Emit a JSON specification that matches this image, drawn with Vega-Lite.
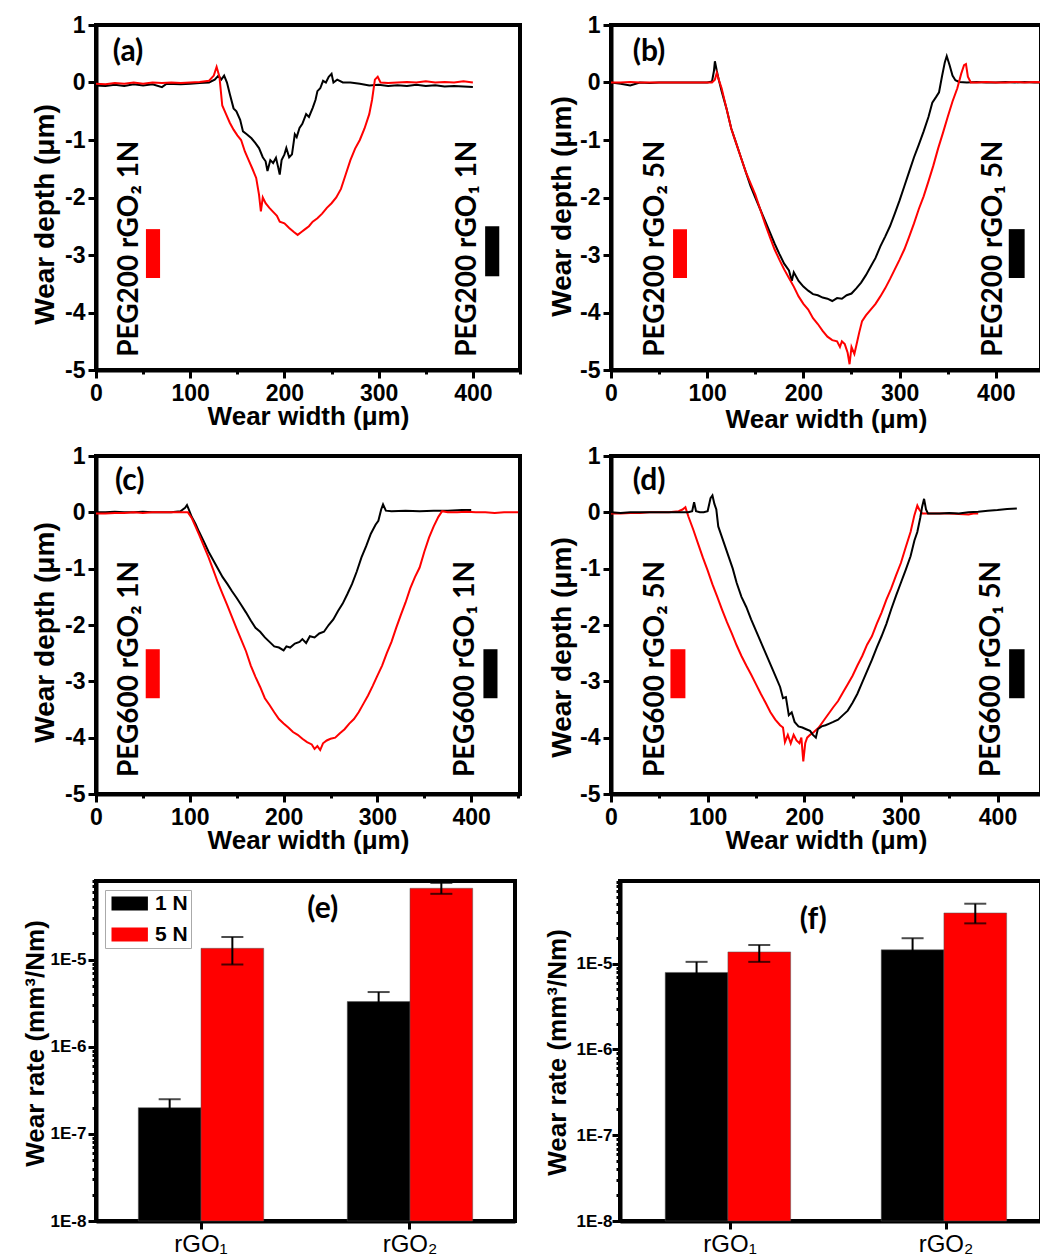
{
"$schema": "https://vega.github.io/schema/vega-lite/v6.json",
"padding": {"left": 20, "top": 12, "right": 0, "bottom": 0},
"spacing": 15,
"resolve": {"scale": {"color": "independent"}, "legend": {"color": "independent"}},
"config": {
 "view": {"stroke": "black", "strokeWidth": 4},
 "axis": {"domainColor": "black", "domainWidth": 4, "tickColor": "black", "tickWidth": 3, "labelFont": "Liberation Sans", "labelFontWeight": "bold", "labelFontSize": 23, "labelColor": "black", "titleFont": "Liberation Sans", "titleFontWeight": "bold", "titleFontSize": 26, "titleColor": "black", "grid": false, "labelFlush": false, "labelOverlap": false, "labelBound": false},
 "text": {"color": "black"}
},
"datasets": {
 "a": [
  {"s":"rGO1","x":0,"y":-0.05},{"s":"rGO1","x":10,"y":-0.06},{"s":"rGO1","x":20,"y":-0.04},{"s":"rGO1","x":30,"y":-0.06},{"s":"rGO1","x":40,"y":-0.03},{"s":"rGO1","x":50,"y":-0.05},{"s":"rGO1","x":60,"y":-0.03},{"s":"rGO1","x":70,"y":-0.08},{"s":"rGO1","x":75,"y":-0.02},{"s":"rGO1","x":90,"y":-0.03},{"s":"rGO1","x":100,"y":-0.02},{"s":"rGO1","x":110,"y":-0.01},{"s":"rGO1","x":120,"y":0},{"s":"rGO1","x":126,"y":0.05},{"s":"rGO1","x":130,"y":0.12},{"s":"rGO1","x":133,"y":0.05},{"s":"rGO1","x":136,"y":0.12},{"s":"rGO1","x":139,"y":0},{"s":"rGO1","x":142,"y":-0.2},{"s":"rGO1","x":146,"y":-0.45},{"s":"rGO1","x":149,"y":-0.5},{"s":"rGO1","x":153,"y":-0.65},{"s":"rGO1","x":156,"y":-0.85},{"s":"rGO1","x":160,"y":-0.9},{"s":"rGO1","x":165,"y":-0.97},{"s":"rGO1","x":169,"y":-1.05},{"s":"rGO1","x":173,"y":-1.14},{"s":"rGO1","x":177,"y":-1.3},{"s":"rGO1","x":180,"y":-1.37},{"s":"rGO1","x":182,"y":-1.54},{"s":"rGO1","x":185,"y":-1.35},{"s":"rGO1","x":188,"y":-1.4},{"s":"rGO1","x":191,"y":-1.31},{"s":"rGO1","x":193,"y":-1.45},{"s":"rGO1","x":195,"y":-1.6},{"s":"rGO1","x":197,"y":-1.35},{"s":"rGO1","x":200,"y":-1.25},{"s":"rGO1","x":202,"y":-1.14},{"s":"rGO1","x":205,"y":-1.3},{"s":"rGO1","x":208,"y":-1.25},{"s":"rGO1","x":211,"y":-0.9},{"s":"rGO1","x":213,"y":-0.95},{"s":"rGO1","x":216,"y":-0.79},{"s":"rGO1","x":219,"y":-0.72},{"s":"rGO1","x":223,"y":-0.55},{"s":"rGO1","x":226,"y":-0.6},{"s":"rGO1","x":230,"y":-0.44},{"s":"rGO1","x":233,"y":-0.3},{"s":"rGO1","x":235,"y":-0.15},{"s":"rGO1","x":238,"y":-0.1},{"s":"rGO1","x":241,"y":0.03},{"s":"rGO1","x":244,"y":0},{"s":"rGO1","x":247,"y":0.1},{"s":"rGO1","x":250,"y":0.15},{"s":"rGO1","x":252,"y":0},{"s":"rGO1","x":256,"y":0.05},{"s":"rGO1","x":262,"y":0},{"s":"rGO1","x":270,"y":0},{"s":"rGO1","x":280,"y":-0.02},{"s":"rGO1","x":290,"y":-0.05},{"s":"rGO1","x":300,"y":-0.04},{"s":"rGO1","x":310,"y":-0.06},{"s":"rGO1","x":320,"y":-0.05},{"s":"rGO1","x":330,"y":-0.06},{"s":"rGO1","x":340,"y":-0.04},{"s":"rGO1","x":350,"y":-0.06},{"s":"rGO1","x":360,"y":-0.05},{"s":"rGO1","x":370,"y":-0.07},{"s":"rGO1","x":380,"y":-0.06},{"s":"rGO1","x":390,"y":-0.07},{"s":"rGO1","x":400,"y":-0.08},
  {"s":"rGO2","x":0,"y":-0.02},{"s":"rGO2","x":10,"y":-0.03},{"s":"rGO2","x":20,"y":-0.01},{"s":"rGO2","x":30,"y":-0.02},{"s":"rGO2","x":40,"y":0},{"s":"rGO2","x":50,"y":-0.02},{"s":"rGO2","x":60,"y":0},{"s":"rGO2","x":70,"y":-0.01},{"s":"rGO2","x":80,"y":0},{"s":"rGO2","x":90,"y":-0.01},{"s":"rGO2","x":100,"y":0},{"s":"rGO2","x":110,"y":0.01},{"s":"rGO2","x":120,"y":0.03},{"s":"rGO2","x":125,"y":0.12},{"s":"rGO2","x":128,"y":0.27},{"s":"rGO2","x":131,"y":0.1},{"s":"rGO2","x":134,"y":-0.4},{"s":"rGO2","x":138,"y":-0.55},{"s":"rGO2","x":142,"y":-0.7},{"s":"rGO2","x":146,"y":-0.82},{"s":"rGO2","x":150,"y":-0.92},{"s":"rGO2","x":154,"y":-1.0},{"s":"rGO2","x":158,"y":-1.2},{"s":"rGO2","x":162,"y":-1.35},{"s":"rGO2","x":166,"y":-1.5},{"s":"rGO2","x":170,"y":-1.66},{"s":"rGO2","x":173,"y":-1.95},{"s":"rGO2","x":175,"y":-2.24},{"s":"rGO2","x":177,"y":-2.0},{"s":"rGO2","x":180,"y":-2.1},{"s":"rGO2","x":184,"y":-2.18},{"s":"rGO2","x":188,"y":-2.25},{"s":"rGO2","x":192,"y":-2.32},{"s":"rGO2","x":195,"y":-2.42},{"s":"rGO2","x":200,"y":-2.45},{"s":"rGO2","x":205,"y":-2.53},{"s":"rGO2","x":210,"y":-2.6},{"s":"rGO2","x":214,"y":-2.65},{"s":"rGO2","x":218,"y":-2.6},{"s":"rGO2","x":222,"y":-2.55},{"s":"rGO2","x":226,"y":-2.5},{"s":"rGO2","x":230,"y":-2.42},{"s":"rGO2","x":235,"y":-2.36},{"s":"rGO2","x":240,"y":-2.28},{"s":"rGO2","x":245,"y":-2.18},{"s":"rGO2","x":250,"y":-2.1},{"s":"rGO2","x":255,"y":-2.0},{"s":"rGO2","x":260,"y":-1.85},{"s":"rGO2","x":265,"y":-1.6},{"s":"rGO2","x":270,"y":-1.35},{"s":"rGO2","x":275,"y":-1.15},{"s":"rGO2","x":280,"y":-1.0},{"s":"rGO2","x":285,"y":-0.8},{"s":"rGO2","x":290,"y":-0.55},{"s":"rGO2","x":293,"y":-0.3},{"s":"rGO2","x":296,"y":0.05},{"s":"rGO2","x":299,"y":0.1},{"s":"rGO2","x":302,"y":0},{"s":"rGO2","x":310,"y":-0.01},{"s":"rGO2","x":320,"y":0},{"s":"rGO2","x":330,"y":0.01},{"s":"rGO2","x":340,"y":0},{"s":"rGO2","x":350,"y":0.02},{"s":"rGO2","x":360,"y":0},{"s":"rGO2","x":370,"y":0.01},{"s":"rGO2","x":380,"y":0},{"s":"rGO2","x":390,"y":0.02},{"s":"rGO2","x":400,"y":0}
 ],
 "b": [
  {"s":"rGO1","x":0,"y":0},{"s":"rGO1","x":10,"y":-0.02},{"s":"rGO1","x":20,"y":-0.05},{"s":"rGO1","x":30,"y":0},{"s":"rGO1","x":40,"y":-0.01},{"s":"rGO1","x":50,"y":0},{"s":"rGO1","x":60,"y":0},{"s":"rGO1","x":70,"y":0},{"s":"rGO1","x":80,"y":0},{"s":"rGO1","x":90,"y":0},{"s":"rGO1","x":100,"y":0},{"s":"rGO1","x":105,"y":0.02},{"s":"rGO1","x":107,"y":0.2},{"s":"rGO1","x":108,"y":0.37},{"s":"rGO1","x":110,"y":0.2},{"s":"rGO1","x":112,"y":0.05},{"s":"rGO1","x":115,"y":-0.15},{"s":"rGO1","x":120,"y":-0.45},{"s":"rGO1","x":125,"y":-0.8},{"s":"rGO1","x":130,"y":-1.05},{"s":"rGO1","x":135,"y":-1.3},{"s":"rGO1","x":140,"y":-1.55},{"s":"rGO1","x":145,"y":-1.8},{"s":"rGO1","x":150,"y":-2.0},{"s":"rGO1","x":155,"y":-2.2},{"s":"rGO1","x":160,"y":-2.4},{"s":"rGO1","x":165,"y":-2.6},{"s":"rGO1","x":170,"y":-2.8},{"s":"rGO1","x":175,"y":-2.98},{"s":"rGO1","x":180,"y":-3.15},{"s":"rGO1","x":185,"y":-3.27},{"s":"rGO1","x":188,"y":-3.45},{"s":"rGO1","x":190,"y":-3.3},{"s":"rGO1","x":195,"y":-3.45},{"s":"rGO1","x":200,"y":-3.55},{"s":"rGO1","x":205,"y":-3.62},{"s":"rGO1","x":210,"y":-3.68},{"s":"rGO1","x":215,"y":-3.7},{"s":"rGO1","x":220,"y":-3.74},{"s":"rGO1","x":225,"y":-3.76},{"s":"rGO1","x":230,"y":-3.8},{"s":"rGO1","x":235,"y":-3.75},{"s":"rGO1","x":240,"y":-3.76},{"s":"rGO1","x":245,"y":-3.7},{"s":"rGO1","x":250,"y":-3.67},{"s":"rGO1","x":255,"y":-3.58},{"s":"rGO1","x":260,"y":-3.48},{"s":"rGO1","x":265,"y":-3.35},{"s":"rGO1","x":270,"y":-3.2},{"s":"rGO1","x":275,"y":-3.05},{"s":"rGO1","x":280,"y":-2.85},{"s":"rGO1","x":285,"y":-2.68},{"s":"rGO1","x":290,"y":-2.5},{"s":"rGO1","x":295,"y":-2.28},{"s":"rGO1","x":300,"y":-2.05},{"s":"rGO1","x":305,"y":-1.8},{"s":"rGO1","x":310,"y":-1.55},{"s":"rGO1","x":315,"y":-1.3},{"s":"rGO1","x":320,"y":-1.08},{"s":"rGO1","x":325,"y":-0.85},{"s":"rGO1","x":330,"y":-0.6},{"s":"rGO1","x":334,"y":-0.35},{"s":"rGO1","x":338,"y":-0.25},{"s":"rGO1","x":341,"y":-0.17},{"s":"rGO1","x":344,"y":0.1},{"s":"rGO1","x":347,"y":0.35},{"s":"rGO1","x":349,"y":0.46},{"s":"rGO1","x":352,"y":0.3},{"s":"rGO1","x":355,"y":0.12},{"s":"rGO1","x":358,"y":0.04},{"s":"rGO1","x":362,"y":0.01},{"s":"rGO1","x":370,"y":0},{"s":"rGO1","x":380,"y":0.01},{"s":"rGO1","x":390,"y":0},{"s":"rGO1","x":400,"y":0},{"s":"rGO1","x":410,"y":0.01},{"s":"rGO1","x":420,"y":0},{"s":"rGO1","x":430,"y":0.01},{"s":"rGO1","x":440,"y":0},{"s":"rGO1","x":450,"y":0},
  {"s":"rGO2","x":0,"y":0},{"s":"rGO2","x":10,"y":0},{"s":"rGO2","x":20,"y":0.01},{"s":"rGO2","x":30,"y":0},{"s":"rGO2","x":40,"y":0},{"s":"rGO2","x":50,"y":0},{"s":"rGO2","x":60,"y":0},{"s":"rGO2","x":70,"y":0},{"s":"rGO2","x":80,"y":0},{"s":"rGO2","x":90,"y":0},{"s":"rGO2","x":100,"y":0},{"s":"rGO2","x":105,"y":0},{"s":"rGO2","x":108,"y":0.05},{"s":"rGO2","x":110,"y":0.17},{"s":"rGO2","x":112,"y":0.05},{"s":"rGO2","x":115,"y":-0.1},{"s":"rGO2","x":120,"y":-0.45},{"s":"rGO2","x":125,"y":-0.8},{"s":"rGO2","x":130,"y":-1.05},{"s":"rGO2","x":135,"y":-1.3},{"s":"rGO2","x":140,"y":-1.55},{"s":"rGO2","x":145,"y":-1.75},{"s":"rGO2","x":150,"y":-1.95},{"s":"rGO2","x":155,"y":-2.2},{"s":"rGO2","x":160,"y":-2.45},{"s":"rGO2","x":165,"y":-2.68},{"s":"rGO2","x":170,"y":-2.9},{"s":"rGO2","x":175,"y":-3.08},{"s":"rGO2","x":180,"y":-3.25},{"s":"rGO2","x":185,"y":-3.4},{"s":"rGO2","x":190,"y":-3.55},{"s":"rGO2","x":195,"y":-3.72},{"s":"rGO2","x":200,"y":-3.85},{"s":"rGO2","x":205,"y":-3.95},{"s":"rGO2","x":210,"y":-4.1},{"s":"rGO2","x":215,"y":-4.2},{"s":"rGO2","x":220,"y":-4.32},{"s":"rGO2","x":225,"y":-4.42},{"s":"rGO2","x":230,"y":-4.48},{"s":"rGO2","x":235,"y":-4.5},{"s":"rGO2","x":238,"y":-4.6},{"s":"rGO2","x":240,"y":-4.5},{"s":"rGO2","x":243,"y":-4.55},{"s":"rGO2","x":246,"y":-4.7},{"s":"rGO2","x":248,"y":-4.9},{"s":"rGO2","x":250,"y":-4.6},{"s":"rGO2","x":253,"y":-4.72},{"s":"rGO2","x":256,"y":-4.5},{"s":"rGO2","x":258,"y":-4.35},{"s":"rGO2","x":261,"y":-4.15},{"s":"rGO2","x":265,"y":-4.05},{"s":"rGO2","x":270,"y":-3.95},{"s":"rGO2","x":275,"y":-3.85},{"s":"rGO2","x":280,"y":-3.72},{"s":"rGO2","x":285,"y":-3.58},{"s":"rGO2","x":290,"y":-3.42},{"s":"rGO2","x":295,"y":-3.25},{"s":"rGO2","x":300,"y":-3.08},{"s":"rGO2","x":305,"y":-2.9},{"s":"rGO2","x":310,"y":-2.68},{"s":"rGO2","x":315,"y":-2.45},{"s":"rGO2","x":320,"y":-2.2},{"s":"rGO2","x":325,"y":-1.98},{"s":"rGO2","x":330,"y":-1.72},{"s":"rGO2","x":335,"y":-1.45},{"s":"rGO2","x":340,"y":-1.15},{"s":"rGO2","x":345,"y":-0.88},{"s":"rGO2","x":350,"y":-0.6},{"s":"rGO2","x":355,"y":-0.33},{"s":"rGO2","x":360,"y":-0.1},{"s":"rGO2","x":364,"y":0.15},{"s":"rGO2","x":367,"y":0.3},{"s":"rGO2","x":369,"y":0.32},{"s":"rGO2","x":371,"y":0.1},{"s":"rGO2","x":374,"y":0},{"s":"rGO2","x":380,"y":0},{"s":"rGO2","x":390,"y":0.01},{"s":"rGO2","x":400,"y":0},{"s":"rGO2","x":410,"y":0},{"s":"rGO2","x":420,"y":0.01},{"s":"rGO2","x":430,"y":0},{"s":"rGO2","x":440,"y":0.01},{"s":"rGO2","x":450,"y":0}
 ],
 "c": [
  {"s":"rGO1","x":0,"y":0},{"s":"rGO1","x":10,"y":0},{"s":"rGO1","x":20,"y":0.01},{"s":"rGO1","x":30,"y":0},{"s":"rGO1","x":40,"y":0},{"s":"rGO1","x":50,"y":0.01},{"s":"rGO1","x":60,"y":0},{"s":"rGO1","x":70,"y":0},{"s":"rGO1","x":80,"y":0},{"s":"rGO1","x":90,"y":0.02},{"s":"rGO1","x":95,"y":0.08},{"s":"rGO1","x":97,"y":0.13},{"s":"rGO1","x":99,"y":0.05},{"s":"rGO1","x":102,"y":-0.08},{"s":"rGO1","x":106,"y":-0.2},{"s":"rGO1","x":110,"y":-0.35},{"s":"rGO1","x":115,"y":-0.52},{"s":"rGO1","x":120,"y":-0.7},{"s":"rGO1","x":125,"y":-0.85},{"s":"rGO1","x":130,"y":-1.0},{"s":"rGO1","x":135,"y":-1.15},{"s":"rGO1","x":140,"y":-1.27},{"s":"rGO1","x":145,"y":-1.4},{"s":"rGO1","x":150,"y":-1.52},{"s":"rGO1","x":155,"y":-1.65},{"s":"rGO1","x":160,"y":-1.78},{"s":"rGO1","x":165,"y":-1.92},{"s":"rGO1","x":170,"y":-2.05},{"s":"rGO1","x":175,"y":-2.12},{"s":"rGO1","x":180,"y":-2.22},{"s":"rGO1","x":185,"y":-2.3},{"s":"rGO1","x":190,"y":-2.38},{"s":"rGO1","x":195,"y":-2.4},{"s":"rGO1","x":200,"y":-2.45},{"s":"rGO1","x":203,"y":-2.38},{"s":"rGO1","x":207,"y":-2.4},{"s":"rGO1","x":212,"y":-2.33},{"s":"rGO1","x":217,"y":-2.3},{"s":"rGO1","x":220,"y":-2.25},{"s":"rGO1","x":224,"y":-2.32},{"s":"rGO1","x":228,"y":-2.2},{"s":"rGO1","x":233,"y":-2.22},{"s":"rGO1","x":238,"y":-2.15},{"s":"rGO1","x":243,"y":-2.12},{"s":"rGO1","x":248,"y":-2.0},{"s":"rGO1","x":253,"y":-1.9},{"s":"rGO1","x":258,"y":-1.75},{"s":"rGO1","x":263,"y":-1.62},{"s":"rGO1","x":268,"y":-1.45},{"s":"rGO1","x":273,"y":-1.27},{"s":"rGO1","x":278,"y":-1.05},{"s":"rGO1","x":283,"y":-0.8},{"s":"rGO1","x":288,"y":-0.6},{"s":"rGO1","x":293,"y":-0.38},{"s":"rGO1","x":298,"y":-0.22},{"s":"rGO1","x":301,"y":-0.15},{"s":"rGO1","x":304,"y":0.05},{"s":"rGO1","x":306,"y":0.14},{"s":"rGO1","x":309,"y":0.03},{"s":"rGO1","x":315,"y":0.02},{"s":"rGO1","x":330,"y":0.03},{"s":"rGO1","x":345,"y":0.02},{"s":"rGO1","x":360,"y":0.03},{"s":"rGO1","x":375,"y":0.03},{"s":"rGO1","x":390,"y":0.04},{"s":"rGO1","x":400,"y":0.04},
  {"s":"rGO2","x":0,"y":-0.02},{"s":"rGO2","x":10,"y":-0.02},{"s":"rGO2","x":20,"y":-0.01},{"s":"rGO2","x":30,"y":-0.01},{"s":"rGO2","x":40,"y":0},{"s":"rGO2","x":50,"y":-0.01},{"s":"rGO2","x":60,"y":0},{"s":"rGO2","x":70,"y":0},{"s":"rGO2","x":80,"y":0},{"s":"rGO2","x":90,"y":0},{"s":"rGO2","x":98,"y":0},{"s":"rGO2","x":102,"y":-0.1},{"s":"rGO2","x":106,"y":-0.25},{"s":"rGO2","x":110,"y":-0.4},{"s":"rGO2","x":115,"y":-0.6},{"s":"rGO2","x":120,"y":-0.8},{"s":"rGO2","x":125,"y":-1.02},{"s":"rGO2","x":130,"y":-1.25},{"s":"rGO2","x":135,"y":-1.45},{"s":"rGO2","x":140,"y":-1.65},{"s":"rGO2","x":145,"y":-1.86},{"s":"rGO2","x":150,"y":-2.07},{"s":"rGO2","x":155,"y":-2.27},{"s":"rGO2","x":160,"y":-2.47},{"s":"rGO2","x":165,"y":-2.72},{"s":"rGO2","x":170,"y":-2.92},{"s":"rGO2","x":175,"y":-3.1},{"s":"rGO2","x":180,"y":-3.3},{"s":"rGO2","x":185,"y":-3.42},{"s":"rGO2","x":190,"y":-3.55},{"s":"rGO2","x":195,"y":-3.67},{"s":"rGO2","x":200,"y":-3.75},{"s":"rGO2","x":205,"y":-3.82},{"s":"rGO2","x":210,"y":-3.9},{"s":"rGO2","x":215,"y":-3.95},{"s":"rGO2","x":220,"y":-4.02},{"s":"rGO2","x":225,"y":-4.08},{"s":"rGO2","x":230,"y":-4.12},{"s":"rGO2","x":233,"y":-4.2},{"s":"rGO2","x":236,"y":-4.15},{"s":"rGO2","x":239,"y":-4.22},{"s":"rGO2","x":242,"y":-4.1},{"s":"rGO2","x":246,"y":-4.05},{"s":"rGO2","x":250,"y":-4.02},{"s":"rGO2","x":255,"y":-4.0},{"s":"rGO2","x":260,"y":-3.92},{"s":"rGO2","x":265,"y":-3.85},{"s":"rGO2","x":270,"y":-3.75},{"s":"rGO2","x":275,"y":-3.67},{"s":"rGO2","x":280,"y":-3.55},{"s":"rGO2","x":285,"y":-3.4},{"s":"rGO2","x":290,"y":-3.25},{"s":"rGO2","x":295,"y":-3.08},{"s":"rGO2","x":300,"y":-2.9},{"s":"rGO2","x":305,"y":-2.72},{"s":"rGO2","x":310,"y":-2.5},{"s":"rGO2","x":315,"y":-2.3},{"s":"rGO2","x":320,"y":-2.05},{"s":"rGO2","x":325,"y":-1.82},{"s":"rGO2","x":330,"y":-1.6},{"s":"rGO2","x":335,"y":-1.35},{"s":"rGO2","x":340,"y":-1.15},{"s":"rGO2","x":345,"y":-0.98},{"s":"rGO2","x":350,"y":-0.7},{"s":"rGO2","x":355,"y":-0.45},{"s":"rGO2","x":360,"y":-0.25},{"s":"rGO2","x":365,"y":-0.08},{"s":"rGO2","x":369,"y":0.02},{"s":"rGO2","x":375,"y":0},{"s":"rGO2","x":385,"y":0},{"s":"rGO2","x":395,"y":0.01},{"s":"rGO2","x":405,"y":0},{"s":"rGO2","x":415,"y":0},{"s":"rGO2","x":425,"y":-0.01},{"s":"rGO2","x":435,"y":0},{"s":"rGO2","x":445,"y":0},{"s":"rGO2","x":450,"y":0}
 ],
 "d": [
  {"s":"rGO2","x":0,"y":-0.02},{"s":"rGO2","x":10,"y":-0.02},{"s":"rGO2","x":20,"y":-0.01},{"s":"rGO2","x":30,"y":-0.01},{"s":"rGO2","x":40,"y":0},{"s":"rGO2","x":50,"y":0},{"s":"rGO2","x":60,"y":0},{"s":"rGO2","x":70,"y":0.02},{"s":"rGO2","x":74,"y":0.05},{"s":"rGO2","x":77,"y":0.09},{"s":"rGO2","x":80,"y":-0.07},{"s":"rGO2","x":85,"y":-0.3},{"s":"rGO2","x":90,"y":-0.55},{"s":"rGO2","x":95,"y":-0.8},{"s":"rGO2","x":100,"y":-1.03},{"s":"rGO2","x":105,"y":-1.28},{"s":"rGO2","x":110,"y":-1.5},{"s":"rGO2","x":115,"y":-1.73},{"s":"rGO2","x":120,"y":-1.95},{"s":"rGO2","x":125,"y":-2.15},{"s":"rGO2","x":130,"y":-2.36},{"s":"rGO2","x":135,"y":-2.55},{"s":"rGO2","x":140,"y":-2.72},{"s":"rGO2","x":145,"y":-2.88},{"s":"rGO2","x":150,"y":-3.05},{"s":"rGO2","x":155,"y":-3.22},{"s":"rGO2","x":160,"y":-3.38},{"s":"rGO2","x":165,"y":-3.55},{"s":"rGO2","x":170,"y":-3.68},{"s":"rGO2","x":175,"y":-3.78},{"s":"rGO2","x":178,"y":-3.82},{"s":"rGO2","x":180,"y":-4.08},{"s":"rGO2","x":183,"y":-3.95},{"s":"rGO2","x":186,"y":-4.1},{"s":"rGO2","x":189,"y":-3.95},{"s":"rGO2","x":192,"y":-4.05},{"s":"rGO2","x":195,"y":-4.1},{"s":"rGO2","x":197,"y":-4.0},{"s":"rGO2","x":199,"y":-4.42},{"s":"rGO2","x":201,"y":-4.1},{"s":"rGO2","x":203,"y":-4.0},{"s":"rGO2","x":206,"y":-3.95},{"s":"rGO2","x":210,"y":-3.9},{"s":"rGO2","x":215,"y":-3.82},{"s":"rGO2","x":220,"y":-3.7},{"s":"rGO2","x":225,"y":-3.58},{"s":"rGO2","x":230,"y":-3.46},{"s":"rGO2","x":235,"y":-3.35},{"s":"rGO2","x":240,"y":-3.2},{"s":"rGO2","x":245,"y":-3.05},{"s":"rGO2","x":250,"y":-2.9},{"s":"rGO2","x":255,"y":-2.72},{"s":"rGO2","x":260,"y":-2.55},{"s":"rGO2","x":265,"y":-2.35},{"s":"rGO2","x":270,"y":-2.2},{"s":"rGO2","x":275,"y":-1.98},{"s":"rGO2","x":280,"y":-1.78},{"s":"rGO2","x":285,"y":-1.55},{"s":"rGO2","x":290,"y":-1.35},{"s":"rGO2","x":295,"y":-1.12},{"s":"rGO2","x":300,"y":-0.9},{"s":"rGO2","x":305,"y":-0.62},{"s":"rGO2","x":310,"y":-0.35},{"s":"rGO2","x":314,"y":-0.05},{"s":"rGO2","x":317,"y":0.12},{"s":"rGO2","x":319,"y":0.05},{"s":"rGO2","x":322,"y":-0.02},{"s":"rGO2","x":330,"y":-0.02},{"s":"rGO2","x":340,"y":-0.02},{"s":"rGO2","x":350,"y":-0.02},{"s":"rGO2","x":360,"y":-0.03},{"s":"rGO2","x":370,"y":-0.04},{"s":"rGO2","x":375,"y":-0.02},{"s":"rGO2","x":380,"y":-0.02},
  {"s":"rGO1","x":0,"y":0},{"s":"rGO1","x":10,"y":-0.01},{"s":"rGO1","x":20,"y":0},{"s":"rGO1","x":30,"y":0},{"s":"rGO1","x":40,"y":0},{"s":"rGO1","x":50,"y":0},{"s":"rGO1","x":60,"y":0},{"s":"rGO1","x":70,"y":0},{"s":"rGO1","x":80,"y":0},{"s":"rGO1","x":84,"y":0.02},{"s":"rGO1","x":86,"y":0.18},{"s":"rGO1","x":88,"y":0.02},{"s":"rGO1","x":92,"y":0},{"s":"rGO1","x":96,"y":0},{"s":"rGO1","x":100,"y":0.02},{"s":"rGO1","x":103,"y":0.25},{"s":"rGO1","x":105,"y":0.3},{"s":"rGO1","x":107,"y":0.15},{"s":"rGO1","x":109,"y":0.05},{"s":"rGO1","x":111,"y":-0.25},{"s":"rGO1","x":114,"y":-0.4},{"s":"rGO1","x":118,"y":-0.6},{"s":"rGO1","x":122,"y":-0.8},{"s":"rGO1","x":126,"y":-1.0},{"s":"rGO1","x":130,"y":-1.25},{"s":"rGO1","x":135,"y":-1.5},{"s":"rGO1","x":140,"y":-1.68},{"s":"rGO1","x":145,"y":-1.9},{"s":"rGO1","x":150,"y":-2.1},{"s":"rGO1","x":155,"y":-2.3},{"s":"rGO1","x":160,"y":-2.5},{"s":"rGO1","x":165,"y":-2.7},{"s":"rGO1","x":170,"y":-2.9},{"s":"rGO1","x":175,"y":-3.1},{"s":"rGO1","x":178,"y":-3.3},{"s":"rGO1","x":181,"y":-3.28},{"s":"rGO1","x":184,"y":-3.6},{"s":"rGO1","x":187,"y":-3.55},{"s":"rGO1","x":190,"y":-3.72},{"s":"rGO1","x":194,"y":-3.8},{"s":"rGO1","x":198,"y":-3.82},{"s":"rGO1","x":202,"y":-3.85},{"s":"rGO1","x":206,"y":-3.88},{"s":"rGO1","x":209,"y":-3.95},{"s":"rGO1","x":212,"y":-4.0},{"s":"rGO1","x":214,"y":-3.85},{"s":"rGO1","x":218,"y":-3.8},{"s":"rGO1","x":222,"y":-3.78},{"s":"rGO1","x":226,"y":-3.75},{"s":"rGO1","x":230,"y":-3.72},{"s":"rGO1","x":235,"y":-3.68},{"s":"rGO1","x":240,"y":-3.6},{"s":"rGO1","x":245,"y":-3.52},{"s":"rGO1","x":250,"y":-3.38},{"s":"rGO1","x":255,"y":-3.22},{"s":"rGO1","x":260,"y":-3.02},{"s":"rGO1","x":265,"y":-2.82},{"s":"rGO1","x":270,"y":-2.62},{"s":"rGO1","x":275,"y":-2.4},{"s":"rGO1","x":280,"y":-2.2},{"s":"rGO1","x":285,"y":-1.98},{"s":"rGO1","x":290,"y":-1.72},{"s":"rGO1","x":295,"y":-1.48},{"s":"rGO1","x":300,"y":-1.25},{"s":"rGO1","x":305,"y":-1.02},{"s":"rGO1","x":310,"y":-0.78},{"s":"rGO1","x":314,"y":-0.5},{"s":"rGO1","x":317,"y":-0.35},{"s":"rGO1","x":320,"y":-0.1},{"s":"rGO1","x":322,"y":0.1},{"s":"rGO1","x":324,"y":0.24},{"s":"rGO1","x":326,"y":0.05},{"s":"rGO1","x":328,"y":-0.02},{"s":"rGO1","x":340,"y":-0.02},{"s":"rGO1","x":350,"y":-0.01},{"s":"rGO1","x":360,"y":-0.02},{"s":"rGO1","x":370,"y":0},{"s":"rGO1","x":380,"y":0.01},{"s":"rGO1","x":390,"y":0.03},{"s":"rGO1","x":400,"y":0.04},{"s":"rGO1","x":410,"y":0.06},{"s":"rGO1","x":420,"y":0.07}
 ],
 "e": [
  {"cat":"rGO₁","load":"1 N","v":2.0e-7,"lo":1.5e-7,"hi":2.5e-7},
  {"cat":"rGO₁","load":"5 N","v":1.35e-5,"lo":0.88e-5,"hi":1.82e-5},
  {"cat":"rGO₂","load":"1 N","v":3.3e-6,"lo":2.35e-6,"hi":4.25e-6},
  {"cat":"rGO₂","load":"5 N","v":6.6e-5,"lo":5.7e-5,"hi":7.6e-5}
 ],
 "f": [
  {"cat":"rGO₁","load":"1 N","v":7.9e-6,"lo":5.3e-6,"hi":1.05e-5},
  {"cat":"rGO₁","load":"5 N","v":1.37e-5,"lo":1.05e-5,"hi":1.65e-5},
  {"cat":"rGO₂","load":"1 N","v":1.45e-5,"lo":0.92e-5,"hi":1.98e-5},
  {"cat":"rGO₂","load":"5 N","v":3.9e-5,"lo":2.95e-5,"hi":5.0e-5}
 ]
},
"vconcat": [
 {"vconcat": [
 {"hconcat": [
  {"width": 424, "height": 345, "layer": [
   {"data": {"name": "a"}, "mark": {"type": "line", "strokeWidth": 2, "clip": true},
    "encoding": {
     "x": {"field": "x", "type": "quantitative", "scale": {"domain": [0, 450], "nice": false, "zero": false}, "axis": {"title": "Wear width (μm)", "values": [0,50,100,150,200,250,300,350,400,450], "labelExpr": "datum.value % 100 === 0 && datum.value <= 400 ? '' + datum.value : ''", "tickSize": {"condition": {"test": "datum.value % 100 !== 0", "value": 4}, "value": 8}, "labelPadding": 4, "minExtent": 32, "maxExtent": 32, "titlePadding": 1}},
     "y": {"field": "y", "type": "quantitative", "scale": {"domain": [-5, 1], "nice": false, "zero": false}, "axis": {"title": "Wear depth (μm)", "titleFontSize": 28, "titleY": 189, "values": [-5,-4.5,-4,-3.5,-3,-2.5,-2,-1.5,-1,-0.5,0,0.5,1], "labelExpr": "datum.value % 1 === 0 ? '' + datum.value : ''", "tickSize": {"condition": {"test": "datum.value % 1 !== 0", "value": 4}, "value": 8}, "labelPadding": 3, "minExtent": 34, "maxExtent": 34, "titlePadding": 3}},
     "color": {"field": "s", "type": "nominal", "scale": {"domain": ["rGO1", "rGO2"], "range": ["#000000", "#ff0000"]}, "legend": null}}},
   {"data": {"values": [{"s": "rGO2", "x": 53, "x2": 68, "y": -2.55, "y2": -3.4}, {"s": "rGO1", "x": 413, "x2": 428, "y": -2.5, "y2": -3.37}]}, "mark": "rect",
    "encoding": {"x": {"field": "x", "type": "quantitative"}, "x2": {"field": "x2"}, "y": {"field": "y", "type": "quantitative"}, "y2": {"field": "y2"}, "color": {"field": "s", "type": "nominal", "legend": null}}},
   {"data": {"values": [{"x": 44.6, "y": -4.77, "t": "PEG200 rGO₂ 1N"}, {"x": 403, "y": -4.77, "t": "PEG200 rGO₁ 1N"}]}, "mark": {"type": "text", "angle": 270, "align": "left", "baseline": "alphabetic", "font": "Lato", "fontWeight": "bold", "fontSize": 28},
    "encoding": {"x": {"field": "x", "type": "quantitative"}, "y": {"field": "y", "type": "quantitative"}, "text": {"field": "t"}}},
   {"data": {"values": [{"x": 34, "y": 0.53, "t": "(a)"}]}, "mark": {"type": "text", "align": "center", "baseline": "middle", "font": "Lato", "fontWeight": "bold", "fontSize": 30},
    "encoding": {"x": {"field": "x", "type": "quantitative"}, "y": {"field": "y", "type": "quantitative"}, "text": {"field": "t"}}}
  ]},
  {"width": 430, "height": 345, "layer": [
   {"data": {"name": "b"}, "mark": {"type": "line", "strokeWidth": 2, "clip": true},
    "encoding": {
     "x": {"field": "x", "type": "quantitative", "scale": {"domain": [0, 447], "nice": false, "zero": false}, "axis": {"title": "Wear width (μm)", "values": [0,50,100,150,200,250,300,350,400], "labelExpr": "datum.value % 100 === 0 ? '' + datum.value : ''", "tickSize": {"condition": {"test": "datum.value % 100 !== 0", "value": 4}, "value": 8}, "labelPadding": 4, "minExtent": 32, "maxExtent": 32, "titlePadding": 4}},
     "y": {"field": "y", "type": "quantitative", "scale": {"domain": [-5, 1], "nice": false, "zero": false}, "axis": {"title": "Wear depth (μm)", "titleFontSize": 28, "titleY": 181, "values": [-5,-4.5,-4,-3.5,-3,-2.5,-2,-1.5,-1,-0.5,0,0.5,1], "labelExpr": "datum.value % 1 === 0 ? '' + datum.value : ''", "tickSize": {"condition": {"test": "datum.value % 1 !== 0", "value": 4}, "value": 8}, "labelPadding": 3, "minExtent": 34, "maxExtent": 34, "titlePadding": 1}},
     "color": {"field": "s", "type": "nominal", "scale": {"domain": ["rGO1", "rGO2"], "range": ["#000000", "#ff0000"]}, "legend": null}}},
   {"data": {"values": [{"s": "rGO2", "x": 64.5, "x2": 79, "y": -2.55, "y2": -3.4}, {"s": "rGO1", "x": 413.5, "x2": 430, "y": -2.55, "y2": -3.4}]}, "mark": "rect",
    "encoding": {"x": {"field": "x", "type": "quantitative"}, "x2": {"field": "x2"}, "y": {"field": "y", "type": "quantitative"}, "y2": {"field": "y2"}, "color": {"field": "s", "type": "nominal", "legend": null}}},
   {"data": {"values": [{"x": 55, "y": -4.77, "t": "PEG200 rGO₂ 5N"}, {"x": 406, "y": -4.77, "t": "PEG200 rGO₁ 5N"}]}, "mark": {"type": "text", "angle": 270, "align": "left", "baseline": "alphabetic", "font": "Lato", "fontWeight": "bold", "fontSize": 28},
    "encoding": {"x": {"field": "x", "type": "quantitative"}, "y": {"field": "y", "type": "quantitative"}, "text": {"field": "t"}}},
   {"data": {"values": [{"x": 39.5, "y": 0.53, "t": "(b)"}]}, "mark": {"type": "text", "align": "center", "baseline": "middle", "font": "Lato", "fontWeight": "bold", "fontSize": 30},
    "encoding": {"x": {"field": "x", "type": "quantitative"}, "y": {"field": "y", "type": "quantitative"}, "text": {"field": "t"}}}
  ]}
 ], "spacing": 91, "bounds": "flush", "resolve": {"scale": {"color": "independent"}, "legend": {"color": "independent"}}},
 {"hconcat": [
  {"width": 424, "height": 338, "layer": [
   {"data": {"name": "c"}, "mark": {"type": "line", "strokeWidth": 2, "clip": true},
    "encoding": {
     "x": {"field": "x", "type": "quantitative", "scale": {"domain": [0, 452], "nice": false, "zero": false}, "axis": {"title": "Wear width (μm)", "values": [0,50,100,150,200,250,300,350,400,450], "labelExpr": "datum.value % 100 === 0 && datum.value <= 400 ? '' + datum.value : ''", "tickSize": {"condition": {"test": "datum.value % 100 !== 0", "value": 4}, "value": 8}, "labelPadding": 4, "minExtent": 32, "maxExtent": 32, "titlePadding": 1}},
     "y": {"field": "y", "type": "quantitative", "scale": {"domain": [-5, 1], "nice": false, "zero": false}, "axis": {"title": "Wear depth (μm)", "titleFontSize": 28, "titleY": 176, "values": [-5,-4.5,-4,-3.5,-3,-2.5,-2,-1.5,-1,-0.5,0,0.5,1], "labelExpr": "datum.value % 1 === 0 ? '' + datum.value : ''", "tickSize": {"condition": {"test": "datum.value % 1 !== 0", "value": 4}, "value": 8}, "labelPadding": 3, "minExtent": 34, "maxExtent": 34, "titlePadding": 3}},
     "color": {"field": "s", "type": "nominal", "scale": {"domain": ["rGO1", "rGO2"], "range": ["#000000", "#ff0000"]}, "legend": null}}},
   {"data": {"values": [{"s": "rGO2", "x": 53, "x2": 68, "y": -2.43, "y2": -3.3}, {"s": "rGO1", "x": 413, "x2": 428, "y": -2.43, "y2": -3.3}]}, "mark": "rect",
    "encoding": {"x": {"field": "x", "type": "quantitative"}, "x2": {"field": "x2"}, "y": {"field": "y", "type": "quantitative"}, "y2": {"field": "y2"}, "color": {"field": "s", "type": "nominal", "legend": null}}},
   {"data": {"values": [{"x": 44.6, "y": -4.7, "t": "PEG600 rGO₂ 1N"}, {"x": 403, "y": -4.7, "t": "PEG600 rGO₁ 1N"}]}, "mark": {"type": "text", "angle": 270, "align": "left", "baseline": "alphabetic", "font": "Lato", "fontWeight": "bold", "fontSize": 28},
    "encoding": {"x": {"field": "x", "type": "quantitative"}, "y": {"field": "y", "type": "quantitative"}, "text": {"field": "t"}}},
   {"data": {"values": [{"x": 36, "y": 0.56, "t": "(c)"}]}, "mark": {"type": "text", "align": "center", "baseline": "middle", "font": "Lato", "fontWeight": "bold", "fontSize": 30},
    "encoding": {"x": {"field": "x", "type": "quantitative"}, "y": {"field": "y", "type": "quantitative"}, "text": {"field": "t"}}}
  ]},
  {"width": 430, "height": 338, "layer": [
   {"data": {"name": "d"}, "mark": {"type": "line", "strokeWidth": 2, "clip": true},
    "encoding": {
     "x": {"field": "x", "type": "quantitative", "scale": {"domain": [0, 445], "nice": false, "zero": false}, "axis": {"title": "Wear width (μm)", "values": [0,50,100,150,200,250,300,350,400], "labelExpr": "datum.value % 100 === 0 ? '' + datum.value : ''", "tickSize": {"condition": {"test": "datum.value % 100 !== 0", "value": 4}, "value": 8}, "labelPadding": 4, "minExtent": 32, "maxExtent": 32, "titlePadding": 1}},
     "y": {"field": "y", "type": "quantitative", "scale": {"domain": [-5, 1], "nice": false, "zero": false}, "axis": {"title": "Wear depth (μm)", "titleFontSize": 28, "titleY": 191, "values": [-5,-4.5,-4,-3.5,-3,-2.5,-2,-1.5,-1,-0.5,0,0.5,1], "labelExpr": "datum.value % 1 === 0 ? '' + datum.value : ''", "tickSize": {"condition": {"test": "datum.value % 1 !== 0", "value": 4}, "value": 8}, "labelPadding": 3, "minExtent": 34, "maxExtent": 34, "titlePadding": 1}},
     "color": {"field": "s", "type": "nominal", "scale": {"domain": ["rGO2", "rGO1"], "range": ["#ff0000", "#000000"]}, "legend": null}}},
   {"data": {"values": [{"s": "rGO2", "x": 61.5, "x2": 77, "y": -2.43, "y2": -3.3}, {"s": "rGO1", "x": 412, "x2": 428, "y": -2.43, "y2": -3.3}]}, "mark": "rect",
    "encoding": {"x": {"field": "x", "type": "quantitative"}, "x2": {"field": "x2"}, "y": {"field": "y", "type": "quantitative"}, "y2": {"field": "y2"}, "color": {"field": "s", "type": "nominal", "legend": null}}},
   {"data": {"values": [{"x": 55, "y": -4.7, "t": "PEG600 rGO₂ 5N"}, {"x": 403, "y": -4.7, "t": "PEG600 rGO₁ 5N"}]}, "mark": {"type": "text", "angle": 270, "align": "left", "baseline": "alphabetic", "font": "Lato", "fontWeight": "bold", "fontSize": 28},
    "encoding": {"x": {"field": "x", "type": "quantitative"}, "y": {"field": "y", "type": "quantitative"}, "text": {"field": "t"}}},
   {"data": {"values": [{"x": 39.5, "y": 0.56, "t": "(d)"}]}, "mark": {"type": "text", "align": "center", "baseline": "middle", "font": "Lato", "fontWeight": "bold", "fontSize": 30},
    "encoding": {"x": {"field": "x", "type": "quantitative"}, "y": {"field": "y", "type": "quantitative"}, "text": {"field": "t"}}}
  ]}
 ], "spacing": 91, "bounds": "flush", "resolve": {"scale": {"color": "independent"}, "legend": {"color": "independent"}}}
 ], "spacing": 9, "resolve": {"scale": {"color": "independent"}, "legend": {"color": "independent"}}},
 {"hconcat": [
  {"width": 419, "height": 340, "data": {"name": "e"}, "layer": [
   {"mark": {"type": "bar", "stroke": "#555555", "strokeWidth": 0.5},
    "encoding": {
     "x": {"field": "cat", "type": "nominal", "scale": {"paddingInner": 0.4, "paddingOuter": 0.2025}, "axis": {"title": null, "labelAngle": 0, "labelFontSize": 24, "labelFontWeight": "normal", "tickSize": 8, "labelPadding": 3}},
     "xOffset": {"field": "load", "type": "nominal", "scale": {"paddingInner": 0, "paddingOuter": 0}},
     "y": {"field": "v", "type": "quantitative", "scale": {"type": "log", "domain": [1e-8, 8e-5], "nice": false}, "axis": {"title": "Wear rate (mm³/Nm)", "titleFontSize": 26, "titleY": 162, "labelFontSize": 17, "values": [1e-8,2e-8,3e-8,4e-8,5e-8,6e-8,7e-8,8e-8,9e-8,1e-7,2e-7,3e-7,4e-7,5e-7,6e-7,7e-7,8e-7,9e-7,1e-6,2e-6,3e-6,4e-6,5e-6,6e-6,7e-6,8e-6,9e-6,1e-5,2e-5,3e-5,4e-5,5e-5,6e-5,7e-5,8e-5], "labelExpr": "abs(log(datum.value)/LN10 - round(log(datum.value)/LN10)) < 0.001 ? '1E' + round(log(datum.value)/LN10) : ''", "tickSize": {"condition": {"test": "abs(log(datum.value)/LN10 - round(log(datum.value)/LN10)) > 0.001", "value": 4}, "value": 8}, "labelPadding": 2, "minExtent": 47, "maxExtent": 47, "titlePadding": 1}},
     "y2": {"datum": 1e-8},
     "color": {"field": "load", "type": "nominal", "scale": {"domain": ["1 N", "5 N"], "range": ["#000000", "#ff0000"]}, "legend": {"title": null, "orient": "top-left", "offset": 9, "symbolType": "M-1,-1H4.2V1H-1Z", "symbolSize": 196, "symbolStrokeWidth": 0, "symbolOpacity": 1, "labelFont": "Liberation Sans", "labelFontWeight": "bold", "labelFontSize": 21, "labelColor": "black", "labelOffset": 26, "strokeColor": "#aaaaaa", "fillColor": "white", "padding": 3, "rowPadding": 9}}}},
   {"mark": {"type": "rule", "color": "black", "strokeWidth": 2},
    "encoding": {"x": {"field": "cat", "type": "nominal"}, "xOffset": {"field": "load", "type": "nominal"}, "y": {"field": "lo", "type": "quantitative"}, "y2": {"field": "hi"}}},
   {"mark": {"type": "tick", "color": "black", "thickness": 2, "size": 22},
    "encoding": {"x": {"field": "cat", "type": "nominal"}, "xOffset": {"field": "load", "type": "nominal"}, "y": {"field": "hi", "type": "quantitative"}}},
   {"mark": {"type": "tick", "color": "black", "thickness": 2, "size": 22},
    "encoding": {"x": {"field": "cat", "type": "nominal"}, "xOffset": {"field": "load", "type": "nominal"}, "y": {"field": "lo", "type": "quantitative"}}},
   {"data": {"values": [{"cat": "rGO₂", "y": 3.8e-5, "t": "(e)"}]}, "mark": {"type": "text", "align": "right", "baseline": "middle", "font": "Lato", "fontWeight": "bold", "fontSize": 30, "dx": -9},
    "encoding": {"x": {"field": "cat", "type": "nominal", "bandPosition": 0}, "y": {"field": "y", "type": "quantitative"}, "text": {"field": "t"}}}
  ]},
  {"width": 421, "height": 340, "data": {"name": "f"}, "layer": [
   {"mark": {"type": "bar", "stroke": "#555555", "strokeWidth": 0.5},
    "encoding": {
     "x": {"field": "cat", "type": "nominal", "scale": {"paddingInner": 0.4, "paddingOuter": 0.1745, "align": 0.6}, "axis": {"title": null, "labelAngle": 0, "labelFontSize": 24, "labelFontWeight": "normal", "tickSize": 8, "labelPadding": 3}},
     "xOffset": {"field": "load", "type": "nominal", "scale": {"paddingInner": 0, "paddingOuter": 0}},
     "y": {"field": "v", "type": "quantitative", "scale": {"type": "log", "domain": [1e-8, 9.2e-5], "nice": false}, "axis": {"title": "Wear rate (mm³/Nm)", "titleFontSize": 26, "titleY": 171, "labelFontSize": 17, "values": [1e-8,2e-8,3e-8,4e-8,5e-8,6e-8,7e-8,8e-8,9e-8,1e-7,2e-7,3e-7,4e-7,5e-7,6e-7,7e-7,8e-7,9e-7,1e-6,2e-6,3e-6,4e-6,5e-6,6e-6,7e-6,8e-6,9e-6,1e-5,2e-5,3e-5,4e-5,5e-5,6e-5,7e-5,8e-5,9e-5], "labelExpr": "abs(log(datum.value)/LN10 - round(log(datum.value)/LN10)) < 0.001 ? '1E' + round(log(datum.value)/LN10) : ''", "tickSize": {"condition": {"test": "abs(log(datum.value)/LN10 - round(log(datum.value)/LN10)) > 0.001", "value": 4}, "value": 8}, "labelPadding": 0, "minExtent": 47, "maxExtent": 47, "titlePadding": 3}},
     "y2": {"datum": 1e-8},
     "color": {"field": "load", "type": "nominal", "scale": {"domain": ["1 N", "5 N"], "range": ["#000000", "#ff0000"]}, "legend": null}}},
   {"mark": {"type": "rule", "color": "black", "strokeWidth": 2},
    "encoding": {"x": {"field": "cat", "type": "nominal"}, "xOffset": {"field": "load", "type": "nominal"}, "y": {"field": "lo", "type": "quantitative"}, "y2": {"field": "hi"}}},
   {"mark": {"type": "tick", "color": "black", "thickness": 2, "size": 22},
    "encoding": {"x": {"field": "cat", "type": "nominal"}, "xOffset": {"field": "load", "type": "nominal"}, "y": {"field": "hi", "type": "quantitative"}}},
   {"mark": {"type": "tick", "color": "black", "thickness": 2, "size": 22},
    "encoding": {"x": {"field": "cat", "type": "nominal"}, "xOffset": {"field": "load", "type": "nominal"}, "y": {"field": "lo", "type": "quantitative"}}},
   {"data": {"values": [{"cat": "rGO₁", "y": 3.2e-5, "t": "(f)"}]}, "mark": {"type": "text", "align": "left", "baseline": "middle", "font": "Lato", "fontWeight": "bold", "fontSize": 30, "dx": 5},
    "encoding": {"x": {"field": "cat", "type": "nominal", "bandPosition": 1}, "y": {"field": "y", "type": "quantitative"}, "text": {"field": "t"}}}
  ]}
 ], "spacing": 105, "bounds": "flush", "resolve": {"scale": {"color": "independent"}, "legend": {"color": "independent"}}}
]
}
